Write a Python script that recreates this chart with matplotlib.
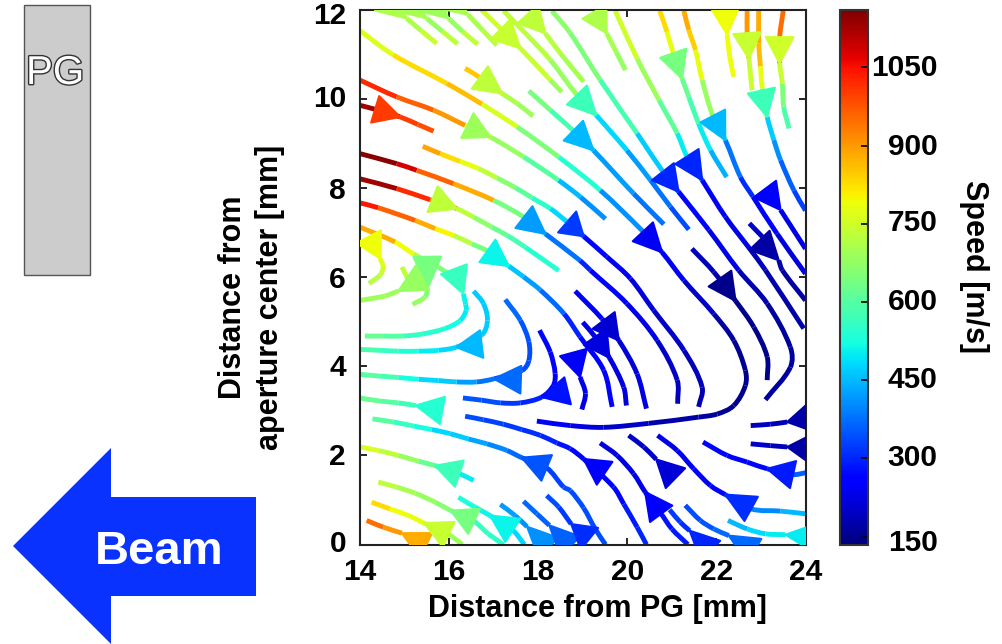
import numpy as np
import matplotlib
matplotlib.use("Agg")
import matplotlib.pyplot as plt
import matplotlib.patheffects as pe
import matplotlib.transforms as mtrans
from matplotlib.collections import PathCollection
from matplotlib.colors import Normalize
from matplotlib.cm import ScalarMappable
from matplotlib.patches import Polygon, Rectangle
from matplotlib.path import Path

plt.rcParams['font.family'] = ['Liberation Sans', 'DejaVu Sans']

# streamlines, nodes in flow order: x [mm], y [mm], speed [m/s]
a_x = [14.0,14.75,15.95,16.74,17.53,18.46,19.395,20.33,20.78,21.27,21.94,22.39,22.65,22.65,22.39,22.02,21.60,20.48,19.47,18.72,17.97]
a_y = [11.535,10.99,10.35,9.885,9.375,8.70,7.95,7.05,6.56,5.93,5.18,4.58,3.91,3.57,3.12,2.93,2.86,2.72,2.63,2.67,2.77]
a_v = [770,830,860,760,650,540,410,330,240,200,170,155,150,150,155,165,175,200,225,240,250]

b_x = [14.0,14.825,15.65,16.36,16.925,17.675,18.46,18.95,19.51]
b_y = [10.425,10.05,9.75,9.41,9.15,8.70,8.175,7.80,7.31]
b_v = [1020,960,900,790,680,600,450,410,380]

c_x = [14.0,14.34,14.90,15.3,15.65]
c_y = [9.86,9.77,9.60,9.43,9.28]
c_v = [1130,1100,1000,980,920]

d_x = [15.41,15.80,16.25,16.66,17.075,17.49,17.86,18.275,18.65,19.02,19.54,20.07,20.59,21.27,21.68,21.60]
d_y = [8.94,8.775,8.60,8.44,8.23,8.01,7.785,7.54,7.24,6.92,6.46,5.97,5.26,4.36,3.53,3.09]
d_v = [890,830,780,730,660,610,550,480,320,270,240,220,200,190,180,180]

e_x = [14.0,14.825,15.275,16.10,17.0,17.68,18.16,18.94,19.17,19.99,20.67,21.12,21.13]
e_y = [8.775,8.55,8.40,8.10,7.725,7.35,6.975,6.375,6.157,5.41,4.58,3.69,3.16]
e_v = [1150,1080,960,880,640,520,380,300,260,230,200,190,190]

f_x = [14.0,14.825,15.575,16.175,16.55,16.96,17.30,17.71,18.46]
f_y = [8.21,7.99,7.74,7.54,7.35,7.125,6.94,6.675,6.15]
f_v = [1130,1020,930,730,670,620,580,540,470]

g_x = [14.0,14.41,15.24,15.69,16.10,16.51,16.86,17.34,17.67,18.05,18.58,18.94,19.47,19.66]
g_y = [7.67,7.56,7.275,7.09,6.94,6.75,6.59,6.25,6.01,5.71,5.18,4.66,3.91,3.09]
g_v = [1040,960,880,800,720,640,570,460,420,370,300,260,250,240]

h_x = [14.0,14.79,15.20,15.76,15.95]
h_y = [7.125,6.79,6.525,6.225,6.1]
h_v = [880,790,720,640,590]

h2_x = [16.32,16.37,16.385,16.25,15.91,15.42,14.97,14.52,14.11]
h2_y = [5.63,5.39,5.26,5.03,4.85,4.73,4.68,4.68,4.68]
h2_v = [510,500,500,520,540,560,600,620,640]

i_x = [16.55,16.77,16.86,16.73,16.16,15.76,15.31,14.86,14.45,14.0]
i_y = [5.69,5.41,5.03,4.70,4.43,4.36,4.34,4.34,4.36,4.38]
i_v = [470,470,470,470,480,500,530,560,580,600]

j_x = [17.26,17.60,17.79,17.79,17.64,17.01,16.62,16.17,15.76,15.31,14.86,14.45,14.0]
j_y = [5.50,5.03,4.55,4.13,3.91,3.72,3.65,3.65,3.68,3.71,3.75,3.78,3.82]
j_v = [370,350,340,340,340,380,420,470,480,520,580,600,620]

k_x = [18.03,18.27,18.38,18.34,18.08,17.60,17.15,16.73,16.31]
k_y = [4.81,4.32,3.84,3.57,3.31,3.18,3.18,3.24,3.29]
k_v = [270,260,250,250,300,320,340,350,360]

m_x = [15.25,14.86,14.45,14.0]
m_y = [3.12,3.18,3.22,3.29]
m_v = [570,600,620,640]

n_x = [20.43,20.22,19.92,19.69,19.02,18.72,18.42,18.05,17.63,17.22,16.77,16.36]
n_y = [0.0,0.39,0.91,1.29,1.92,2.15,2.28,2.45,2.58,2.70,2.80,2.88]
n_v = [300,290,270,250,260,280,300,310,320,330,340,350]

o_x = [16.55,16.23,15.69,15.31,14.86,14.41,14.0]
o_y = [1.44,1.59,1.77,1.87,2.0,2.11,2.19]
o_v = [500,520,620,680,730,760,770]

p_x = [19.51,19.28,19.02,18.72,18.57,18.19,17.63,17.30,16.85,16.43,16.02,15.61,15.20,14.75,14.28]
p_y = [0.0,0.35,0.82,1.21,1.29,1.72,1.95,2.11,2.26,2.37,2.49,2.58,2.66,2.75,2.82]
p_v = [340,340,340,340,330,350,370,400,430,470,480,520,560,600,640]

q_x = [17.22,16.88,16.56,16.04,15.69,15.24,14.82,14.41]
q_y = [0.0,0.24,0.52,0.76,0.95,1.15,1.29,1.40]
q_v = [550,560,600,660,680,700,730,750]

r_x = [14.94,14.52,14.15]
r_y = [0.255,0.39,0.54]
r_v = [900,950,950]

s_x = [16.30,15.99,15.44,15.09,14.67,14.26]
s_y = [0.0,0.225,0.48,0.65,0.80,0.95]
s_v = [690,720,780,790,830,880]

t_x = [17.69,17.43,16.92,16.58,16.21]
t_y = [0.0,0.32,0.65,0.84,1.06]
t_v = [480,500,510,530,540]

u_x = [17.75,17.48,17.15]
u_y = [0.40,0.65,0.90]
u_v = [410,420,440]

v_x = [18.25,17.97,17.67]
v_y = [0.43,0.69,0.97]
v_v = [360,370,380]

w_x = [18.74,18.46,18.19]
w_y = [0.46,0.84,1.10]
w_v = [320,340,350]

x_x = [21.36,21.0,20.76,20.40,20.14,19.77,19.39]
x_y = [0.0,0.35,0.69,1.18,1.59,2.0,2.28]
x_v = [290,280,270,230,220,220,225]

y_x = [21.40,21.19,20.95]
y_y = [0.31,0.50,0.78]
y_v = [310,320,330]

z_x = [22.28,21.94,21.64,21.30]
z_y = [0.20,0.35,0.54,0.88]
z_v = [370,350,340,330]

aa_x = [23.55,23.10,22.69,22.26]
aa_y = [0.22,0.24,0.35,0.54]
aa_v = [500,480,450,430]

ab_x = [24.0,23.44,22.78,22.20,21.87,21.49,21.12,20.68]
ab_y = [0.69,0.75,0.80,1.12,1.32,1.70,2.11,2.45]
ab_v = [450,400,350,260,250,240,230,225]

ac_x = [20.65,20.37,20.03]
ac_y = [1.91,2.19,2.45]
ac_v = [200,200,200]

ad_x = [24.0,23.72,23.14,22.69,22.24,21.70]
ad_y = [1.61,1.57,1.70,1.85,2.0,2.30]
ad_v = [360,330,270,260,250,240]

ae_x = [23.59,23.21,22.77]
ae_y = [2.19,2.22,2.26]
ae_v = [190,200,210]

af_x = [23.59,23.21,22.77]
af_y = [2.75,2.70,2.67]
af_v = [185,195,205]

ag_x = [18.83,19.43,19.81,20.22,20.43]
ag_y = [5.69,5.07,4.58,3.83,3.05]
ag_v = [245,230,215,225,230]

ah_x = [19.0,19.28,19.60,19.92,19.98]
ah_y = [4.99,4.66,4.19,3.53,3.12]
ah_v = [230,225,220,220,220]

ai_x = [18.94,19.06,18.98]
ai_y = [3.76,3.39,3.03]
ai_v = [235,230,230]

ak_x = [21.45,21.94,22.43,22.84,23.14,23.14]
ak_y = [6.64,6.12,5.47,4.88,4.21,3.69]
ak_v = [190,180,150,150,150,155]

al_x = [17.79,18.275,18.79,19.24,20.14,20.82]
al_y = [10.185,9.75,9.29,8.85,7.88,7.19]
al_v = [640,580,500,420,380,350]

aj_x = [17.225,17.75,18.275,18.87,19.30,19.99,20.52,20.97,21.38]
aj_y = [11.98,11.44,10.875,10.09,9.64,8.85,8.18,7.58,7.07]
aj_v = [730,720,680,620,480,420,380,340,310]

top_x = [15.05,15.38,15.72]
top_y = [11.81,11.53,11.25]
top_v = [710,740,790]
top2_x = [15.50,15.85,16.19]
top2_y = [11.81,11.52,11.24]
top2_v = [680,730,780]
top3_x = [15.99,16.30,16.64]
top3_y = [11.81,11.52,11.23]
top3_v = [680,730,770]
top4_x = [16.43,16.75,17.07]
top4_y = [11.89,11.55,11.21]
top4_v = [700,720,730]

l5_x = [16.73,17.60,18.27,18.53]
l5_y = [12.0,11.14,10.43,10.16]
l5_v = [750,740,690,640]

l6_x = [18.16,18.50,19.02]
l6_y = [11.475,11.025,10.39]
l6_v = [720,700,640]

l7_x = [16.36,16.69,17.19,17.53,17.885]
l7_y = [10.69,10.485,10.125,9.90,9.62]
l7_v = [850,820,710,690,620]

l8_x = [19.54,19.75,19.96]
l8_y = [11.475,11.06,10.65]
l8_v = [700,680,660]

mm_x = [18.31,18.72,19.39,20.22,20.80,21.15,21.83,22.50,23.14,23.66,23.66,23.10]
mm_y = [11.98,11.48,10.43,9.23,8.37,7.92,7.06,6.157,5.41,4.43,3.98,3.25]
mm_v = [670,650,580,470,370,270,230,180,165,165,165,170]

o1_x = [19.73,20.22,20.71,21.12,21.34,21.68,22.20,22.77,23.10,23.96]
o1_y = [11.98,10.91,9.98,9.23,8.71,8.18,7.36,6.61,6.16,4.85]
o1_v = [750,690,610,500,410,260,230,190,175,165]

o2_x = [20.73,20.89,21.03,21.23,21.38,21.60,21.87,22.23]
o2_y = [11.98,11.51,11.03,10.46,10.05,9.45,8.85,8.25]
o2_v = [830,780,720,620,580,500,440,400]

o3_x = [21.27,21.38,21.53,21.68,21.92,22.20,22.54,22.82,23.36,24.0]
o3_y = [11.98,11.55,11.10,10.43,9.62,9.08,8.25,7.81,6.98,6.08]
o3_v = [880,840,780,680,560,380,310,260,220,180]

an_x = [23.44,24.0]
an_y = [7.51,6.64]
an_v = [230,220]

am_x = [22.74,23.03]
am_y = [7.21,6.91]
am_v = [200,200]

am2_x = [23.40,23.48,24.0]
am2_y = [6.38,6.157,5.48]
am2_v = [170,170,170]

p1_x = [22.69,22.69,22.73,22.80]
p1_y = [11.98,11.48,10.91,10.20]
p1_v = [900,880,740,700]

p2_x = [22.95,22.95,22.99,23.03,23.14,23.29,23.44,23.74,24.0]
p2_y = [11.98,11.25,10.73,10.24,9.60,9.08,8.63,7.95,7.50]
p2_v = [880,860,780,700,470,410,360,330,320]

p3_x = [23.50,23.42,23.42,23.48,23.51,23.63]
p3_y = [11.98,11.39,10.80,10.35,9.83,9.34]
p3_v = [950,950,740,650,590,570]

ye_x = [22.24,22.30,22.39]
ye_y = [11.45,10.95,10.50]
ye_v = [790,790,740]

lef_x = [14.45,14.52,14.45,14.20]
lef_y = [6.42,6.23,6.05,5.86]
lef_v = [770,740,720,710]

gr_x = [15.52,15.46,15.18]
gr_y = [5.75,5.56,5.39]
gr_v = [650,680,700]

lg_x = [14.86,14.56,14.0]
lg_y = [5.69,5.58,5.48]
lg_v = [690,690,700]

st_x = [14.94,15.09]
st_y = [6.23,5.93]
st_v = [730,730]

streams = [
    (a_x,a_y,a_v),(b_x,b_y,b_v),(c_x,c_y,c_v),(d_x,d_y,d_v),(e_x,e_y,e_v),(f_x,f_y,f_v),(g_x,g_y,g_v),
    (h_x,h_y,h_v),(h2_x,h2_y,h2_v),(i_x,i_y,i_v),(j_x,j_y,j_v),(k_x,k_y,k_v),(m_x,m_y,m_v),(n_x,n_y,n_v),
    (o_x,o_y,o_v),(p_x,p_y,p_v),(q_x,q_y,q_v),(r_x,r_y,r_v),(s_x,s_y,s_v),(t_x,t_y,t_v),(u_x,u_y,u_v),
    (v_x,v_y,v_v),(w_x,w_y,w_v),(x_x,x_y,x_v),(y_x,y_y,y_v),(z_x,z_y,z_v),(aa_x,aa_y,aa_v),(ab_x,ab_y,ab_v),
    (ac_x,ac_y,ac_v),(ad_x,ad_y,ad_v),(ae_x,ae_y,ae_v),(af_x,af_y,af_v),(ag_x,ag_y,ag_v),(ah_x,ah_y,ah_v),
    (ai_x,ai_y,ai_v),(ak_x,ak_y,ak_v),(al_x,al_y,al_v),(aj_x,aj_y,aj_v),(top_x,top_y,top_v),(top2_x,top2_y,top2_v),
    (top3_x,top3_y,top3_v),(top4_x,top4_y,top4_v),(l5_x,l5_y,l5_v),(l6_x,l6_y,l6_v),(l7_x,l7_y,l7_v),(l8_x,l8_y,l8_v),
    (mm_x,mm_y,mm_v),(o1_x,o1_y,o1_v),(o2_x,o2_y,o2_v),(o3_x,o3_y,o3_v),(an_x,an_y,an_v),(am_x,am_y,am_v),
    (am2_x,am2_y,am2_v),(p1_x,p1_y,p1_v),(p2_x,p2_y,p2_v),(p3_x,p3_y,p3_v),(ye_x,ye_y,ye_v),(lef_x,lef_y,lef_v),
    (gr_x,gr_y,gr_v),(lg_x,lg_y,lg_v),(st_x,st_y,st_v),
]

# arrow heads: tip, middle of the base, speed
tip_x  = [15.05,15.50,15.99,16.43,17.60,18.16,17.19,16.925,14.90,16.175,18.16,19.02,17.34,20.78,19.54,19.30,19.24,21.15,21.68,21.23,22.20,23.44,23.40,22.73,23.14,23.42,22.24,22.43,19.81,19.60,18.94,14.45,15.52,14.86,16.32,16.16,17.01,18.08,15.25,19.02,15.69,17.63,16.04,14.94,15.44,16.92,17.75,18.25,18.74,20.40,21.40,22.28,23.55,22.20,20.65,23.14,23.59,23.59]
tip_y  = [11.81,11.81,11.81,11.89,11.14,11.475,10.125,9.15,9.60,7.54,6.975,6.92,6.25,6.56,11.475,9.64,8.85,7.92,8.18,10.46,9.08,7.51,6.38,10.91,9.60,10.80,11.45,5.47,4.58,4.19,3.76,6.42,5.75,5.69,5.63,4.43,3.72,3.31,3.12,1.92,1.77,1.95,0.76,0.255,0.48,0.65,0.40,0.43,0.46,1.18,0.31,0.20,0.22,1.12,1.91,1.70,2.19,2.75]
base_x = [14.53,14.98,15.47,15.90,17.16,17.77,16.69,16.41,14.34,15.63,17.68,18.65,16.86,20.35,19.26,18.87,18.79,20.80,21.34,21.03,21.92,23.09,22.97,22.69,23.01,23.42,22.20,22.08,19.47,19.28,18.79,14.195,15.51,15.40,16.11,16.73,17.61,18.66,15.85,19.49,16.23,18.19,16.56,15.48,15.99,17.43,18.23,18.72,19.15,20.76,21.87,22.85,24.2,22.78,21.08,23.72,24.1,24.1]
base_y = [12.23,12.23,12.23,12.30,11.57,11.91,10.485,9.405,9.77,7.755,7.35,7.24,6.59,7.02,11.96,10.09,9.29,8.37,8.71,11.03,9.62,7.98,6.83,11.48,10.19,11.39,12.04,5.97,5.03,4.66,4.31,6.91,6.46,5.99,6.18,4.50,3.70,3.45,3.01,1.60,1.59,1.72,0.52,-0.02,0.225,0.32,-0.07,-0.04,0.13,0.69,-0.14,-0.14,0.15,0.80,1.49,1.57,2.15,2.85]
tip_v  = [710,700,690,700,740,730,730,690,1000,730,420,320,510,240,710,570,450,300,300,640,450,260,170,740,570,750,790,150,210,220,245,790,640,680,560,450,370,280,540,250,570,350,640,880,740,510,410,360,310,250,300,370,500,310,215,290,170,175]

# axis ticks and text
x_ticks = [14, 16, 18, 20, 22, 24]
y_ticks = [0, 2, 4, 6, 8, 10, 12]
cb_ticks = [150, 300, 450, 600, 750, 900, 1050]
x_label = "Distance from PG [mm]"
y_label = "Distance from\naperture center [mm]"
cb_label = "Speed [m/s]"

W, H = 1003, 644
fig = plt.figure(figsize=(W/100, H/100), dpi=100)
ax = fig.add_axes([360/W, 1-544.5/H, 445.5/W, 534.5/H])

norm = Normalize(135, 1160)
cmap = plt.cm.jet


def bezier_pieces(sx, sy):
    # one cubic piece between each pair of nodes, so every piece keeps its own colour
    pts = np.column_stack([sx, sy])
    seg = np.diff(pts, axis=0)
    seg_len = np.hypot(seg[:, 0], seg[:, 1])
    tang = np.vstack([seg[0], pts[2:] - pts[:-2], seg[-1]]) if len(pts) > 2 else np.vstack([seg[0], seg[0]])
    tang = tang / np.hypot(tang[:, 0], tang[:, 1])[:, None]
    pieces = []
    for n in range(len(seg)):
        c1 = pts[n] + tang[n]*seg_len[n]/3
        c2 = pts[n+1] - tang[n+1]*seg_len[n]/3
        pieces.append(Path([pts[n], c1, c2, pts[n+1]],
                           [Path.MOVETO, Path.CURVE4, Path.CURVE4, Path.CURVE4]))
    return pieces


for sx, sy, sv in streams:
    pc = PathCollection(bezier_pieces(sx, sy), facecolors='none',
                        edgecolors=cmap(norm(np.array(sv[:-1], dtype=float))),
                        linewidths=3.5, capstyle='butt', transform=ax.transData, zorder=2)
    ax.add_collection(pc)

half = 0.31
for tx, ty, bx, by, v in zip(tip_x, tip_y, base_x, base_y, tip_v):
    dx, dy = tx-bx, ty-by
    d = np.hypot(dx, dy)
    nx, ny = -dy/d*half, dx/d*half
    col = cmap(norm(v))
    ax.add_patch(Polygon([(tx, ty), (bx+nx, by+ny), (bx-nx, by-ny)], closed=True,
                         facecolor=col, edgecolor=col, lw=1.5, joinstyle='round', zorder=3))

ax.set_xlim(14, 24)
ax.set_ylim(0, 12)
ax.set_xticks(x_ticks)
ax.set_yticks(y_ticks)
ax.tick_params(direction='in', top=True, right=True, length=5, width=1.2, pad=10, labelsize=21.5)
for lab in ax.get_xticklabels() + ax.get_yticklabels():
    lab.set_fontweight('bold')
for sp in ax.spines.values():
    sp.set_linewidth(1.5)
    sp.set_color('#222222')


def nudge(lab, px):
    # move a tick label up by px figure pixels
    lab.set_transform(lab.get_transform() + mtrans.ScaledTranslation(0, px/100, fig.dpi_scale_trans))


for lab, px in zip(ax.get_yticklabels(), [4, 1, 1, 0, 0, 3, -3]):
    nudge(lab, px)

cax = fig.add_axes([840/W, 1-544.5/H, 27.5/W, 534.5/H])
cb = fig.colorbar(ScalarMappable(norm=norm, cmap=cmap), cax=cax, ticks=cb_ticks)
cb.ax.tick_params(direction='in', length=5, width=1.2, pad=50.5, labelsize=21.5)
for lab in cb.ax.get_yticklabels():
    lab.set_fontweight('bold')
    lab.set_ha('right')
for lab, px in zip(cb.ax.get_yticklabels(), [-3, 3, 3, 3, 4, 2, 2]):
    nudge(lab, px)
cb.outline.set_linewidth(1.5)
cb.outline.set_edgecolor('#333333')

# overlay in figure pixels for the labels and the sketch on the left
ov = fig.add_axes([0, 0, 1, 1], zorder=5)
ov.set_xlim(0, W)
ov.set_ylim(H, 0)
ov.axis('off')

ov.text(598, 609, x_label, ha='center', va='center', fontsize=22, fontweight='bold')
ov.text(251.5, 297, y_label, ha='center', va='center', rotation=90, fontsize=22, fontweight='bold', linespacing=1.28, multialignment='center')
ov.text(974, 267, cb_label, ha='center', va='center', rotation=270, fontsize=22, fontweight='bold')

ov.add_patch(Rectangle((24, 5), 66, 270, facecolor='#cccccc', edgecolor='#555555', lw=1))
ov.text(55, 73, "PG", ha='center', va='center', fontsize=29, color='white',
        path_effects=[pe.withStroke(linewidth=2, foreground='#333333')])

ov.add_patch(Polygon([(13, 546), (111, 448), (111, 497), (256, 497), (256, 596), (111, 596), (111, 644)],
                     closed=True, facecolor='#0a32ff', edgecolor='none'))
ov.text(159, 552, "Beam", ha='center', va='center', fontsize=34, fontweight='bold', color='white')

fig.savefig("out.png", dpi=100)
